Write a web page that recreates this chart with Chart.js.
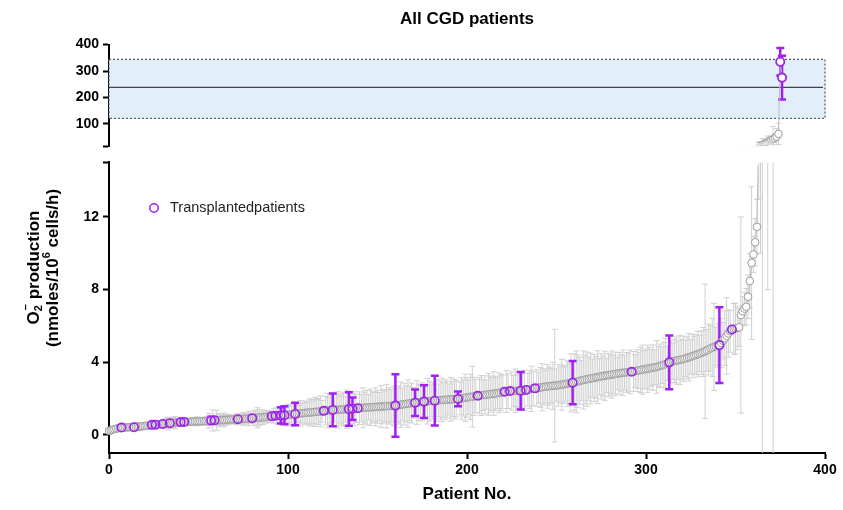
<!DOCTYPE html>
<html>
<head>
<meta charset="utf-8">
<title>All CGD patients</title>
<script src="https://cdn.jsdelivr.net/npm/chart.js@4.4.1/dist/chart.umd.min.js"></script>
<style>
  html, body { margin: 0; padding: 0; background: #fff; }
  #wrap { position: relative; width: 843px; height: 510px; }
  canvas { position: absolute; left: 0; }
  #topChart { top: 0; }
  #bottomChart { top: 150px; }
</style>
</head>
<body>
<div id="wrap">
  <canvas id="topChart" width="843" height="162"></canvas>
  <canvas id="bottomChart" width="843" height="360"></canvas>
</div>
<script>
// O2- production (nmoles/10^6 cells/h), one value per patient, sorted as in the figure
const superoxide = [
  0.22,0.25,0.28,0.31,0.34,0.36,0.38,0.40,0.40,0.41,
  0.41,0.41,0.42,0.42,0.42,0.44,0.45,0.46,0.47,0.48,
  0.49,0.50,0.51,0.53,0.55,0.55,0.56,0.57,0.58,0.59,
  0.60,0.61,0.62,0.62,0.64,0.65,0.66,0.67,0.68,0.69,
  0.70,0.70,0.71,0.71,0.72,0.72,0.73,0.73,0.74,0.74,
  0.74,0.75,0.75,0.76,0.76,0.77,0.78,0.79,0.79,0.80,
  0.80,0.81,0.81,0.82,0.82,0.83,0.83,0.84,0.84,0.85,
  0.85,0.86,0.86,0.87,0.87,0.88,0.89,0.89,0.90,0.91,
  0.92,0.93,0.94,0.94,0.95,0.96,0.97,0.98,0.99,1.00,
  1.01,1.03,1.04,1.05,1.05,1.06,1.07,1.08,1.08,1.09,
  1.10,1.11,1.12,1.14,1.15,1.16,1.17,1.18,1.19,1.20,
  1.21,1.22,1.23,1.24,1.25,1.26,1.27,1.28,1.29,1.30,
  1.32,1.33,1.34,1.35,1.36,1.37,1.37,1.38,1.38,1.39,
  1.39,1.40,1.40,1.41,1.42,1.43,1.44,1.45,1.46,1.47,
  1.47,1.48,1.49,1.50,1.50,1.51,1.52,1.52,1.53,1.54,
  1.54,1.55,1.56,1.56,1.57,1.58,1.58,1.59,1.60,1.60,
  1.61,1.63,1.64,1.66,1.67,1.69,1.70,1.72,1.73,1.75,
  1.76,1.77,1.78,1.79,1.81,1.82,1.83,1.84,1.85,1.86,
  1.87,1.87,1.88,1.89,1.90,1.91,1.92,1.92,1.93,1.94,
  1.95,1.95,1.96,1.97,1.98,1.98,2.00,2.01,2.03,2.04,
  2.06,2.07,2.09,2.10,2.12,2.14,2.15,2.16,2.17,2.19,
  2.20,2.21,2.23,2.24,2.25,2.27,2.28,2.30,2.31,2.33,
  2.35,2.37,2.38,2.40,2.41,2.41,2.42,2.42,2.42,2.43,
  2.43,2.44,2.45,2.47,2.49,2.51,2.53,2.55,2.56,2.58,
  2.59,2.61,2.62,2.64,2.65,2.67,2.68,2.69,2.70,2.71,
  2.72,2.73,2.75,2.76,2.78,2.80,2.82,2.84,2.86,2.87,
  2.90,2.92,2.95,2.97,3.00,3.02,3.04,3.06,3.08,3.10,
  3.12,3.14,3.16,3.18,3.20,3.22,3.24,3.25,3.27,3.29,
  3.30,3.32,3.34,3.35,3.37,3.39,3.40,3.42,3.43,3.44,
  3.45,3.46,3.47,3.49,3.51,3.53,3.55,3.57,3.59,3.60,
  3.62,3.64,3.66,3.68,3.70,3.72,3.74,3.77,3.80,3.83,
  3.86,3.90,3.94,3.99,4.02,4.05,4.07,4.09,4.11,4.13,
  4.15,4.18,4.21,4.24,4.27,4.30,4.34,4.37,4.41,4.44,
  4.48,4.52,4.56,4.60,4.65,4.70,4.76,4.80,4.84,4.88,
  4.92,4.94,5.05,5.18,5.32,5.45,5.58,5.70,5.80,5.83,
  5.86,5.88,5.92,6.60,6.80,6.95,7.05,7.60,8.47,9.46,
  9.93,10.60,11.45,17,18,20,23,27,31,35,
  39,42,47,52,62,335,275
];

// standard deviations, same order
const superoxideSd = [
  0.03,0.04,0.05,0.05,0.06,0.05,0.06,0.05,0.06,0.07,
  0.08,0.10,0.06,0.12,0.05,0.15,0.22,0.18,0.20,0.12,
  0.10,0.14,0.08,0.12,0.05,0.16,0.05,0.10,0.12,0.08,
  0.05,0.22,0.28,0.35,0.05,0.30,0.25,0.34,0.18,0.15,
  0.05,0.12,0.05,0.15,0.10,0.18,0.12,0.20,0.22,0.25,
  0.15,0.18,0.22,0.12,0.20,0.25,0.40,0.20,0.58,0.15,
  0.55,0.35,0.30,0.25,0.38,0.32,0.22,0.28,0.20,0.25,
  0.18,0.30,0.05,0.22,0.28,0.35,0.30,0.25,0.40,0.30,
  0.05,0.42,0.35,0.55,0.45,0.30,0.40,0.28,0.35,0.30,
  0.32,0.05,0.40,0.05,0.45,0.38,0.45,0.50,0.50,0.42,
  0.60,0.55,0.48,0.65,0.62,0.50,0.45,0.70,0.55,0.60,
  0.65,0.58,0.75,0.70,0.62,0.80,0.68,0.72,0.85,0.60,
  0.05,0.78,0.95,0.70,0.82,0.90,0.65,0.88,1.00,0.75,
  0.85,0.92,0.70,1.05,0.92,0.80,0.62,0.95,0.78,0.05,
  0.90,0.75,1.10,0.85,0.95,0.70,1.00,0.88,0.80,1.05,
  0.90,0.78,1.15,0.95,0.85,1.20,0.92,1.00,0.88,1.10,
  1.72,0.95,1.05,1.25,0.90,1.15,1.00,1.30,0.95,1.10,
  0.85,0.73,1.20,1.00,0.90,1.05,0.90,0.95,1.25,1.10,
  0.88,1.00,1.37,1.15,0.90,1.05,1.20,0.95,1.10,1.00,
  0.85,1.20,0.95,1.10,1.00,0.40,0.90,1.15,1.00,1.30,
  1.10,0.95,1.25,1.67,1.05,0.90,0.05,1.00,1.10,0.85,
  1.05,0.80,1.15,1.00,0.90,1.20,0.95,0.85,1.10,1.00,
  0.90,0.05,1.15,0.95,0.05,1.05,0.85,1.20,0.90,1.00,
  1.03,0.95,1.10,0.05,0.90,1.05,1.25,0.95,0.05,1.00,
  0.85,1.10,1.30,1.00,0.90,1.20,1.05,0.95,1.30,3.10,
  0.90,1.15,1.00,1.40,1.05,0.95,1.25,1.10,1.60,1.19,
  1.55,1.70,1.45,1.30,1.10,1.60,1.35,1.50,1.20,1.40,
  1.05,1.30,1.15,1.45,1.00,1.25,1.10,1.35,0.95,1.20,
  1.10,1.30,1.05,1.20,0.90,1.15,1.00,1.25,0.95,1.10,
  1.05,1.20,0.05,1.10,0.90,1.15,1.00,1.25,1.35,1.05,
  1.10,1.30,1.15,1.00,1.25,0.95,1.45,1.10,1.20,1.00,
  1.25,1.40,0.95,1.48,1.15,1.00,1.20,1.30,1.05,1.35,
  1.10,1.25,1.00,1.15,1.30,0.95,1.20,1.05,1.10,1.25,
  1.00,1.20,1.35,3.70,1.15,1.40,1.25,1.60,2.40,1.05,
  1.20,2.08,1.35,1.00,1.50,2.10,1.30,1.15,0.05,1.40,
  1.40,1.20,1.05,5.40,0.80,0.90,1.00,1.20,1.50,4.20,
  1.00,1.30,1.50,4.00,8.00,24.00,6.00,10.00,23.00,12.00,
  15.00,48.00,10.00,30.00,40.00,52.00,83.00
];

// patient numbers of the transplanted patients
const transplanted = [7,14,24,26,30,34,40,42,57,59,72,80,91,93,96,98,104,120,125,134,136,139,
  160,171,176,182,195,206,221,224,230,233,238,259,292,313,341,348,375,376];

const xTicks = [0, 100, 200, 300, 400];
const lowerTicks = [0, 4, 8, 12];
const upperTicks = [100, 200, 300, 400];
const lowerRange = [-1, 15];
const upperRange = [15, 400];
const normalRange = [121, 344];
const normalMean = 238;

const PURPLE = '#a020f0';
const plotLeft = 109;
const tickFont = { family: '"Liberation Sans", Arial, sans-serif', size: 14, weight: 'bold' };

Chart.defaults.font.family = '"Liberation Sans", Arial, sans-serif';
Chart.defaults.color = '#000';

const greyPoints = superoxide.map((v, i) => ({ x: i, y: v, sd: transplanted.includes(i) ? 0 : superoxideSd[i] }));
const purplePoints = transplanted.map(p => ({ x: p, y: superoxide[p], sd: superoxideSd[p] }));

// pixel box of a panel, taken from its own y scale range
function panelBox(chart, pad, inset) {
  const { chartArea: a, scales: { y } } = chart;
  const top = y.getPixelForValue(y.max) + inset;
  const bottom = y.getPixelForValue(y.min) - inset;
  return [a.left - pad, top, a.right - a.left + 2 * pad, bottom - top];
}

// error bars under the points
const errorBars = {
  id: 'errorBars',
  beforeDatasetsDraw(chart) {
    const { ctx, scales: { x, y } } = chart;
    ctx.save();
    ctx.beginPath();
    ctx.rect(...panelBox(chart, 10, 0));
    ctx.clip();
    const sets = chart.data.datasets.slice().sort((p, q) => q.order - p.order);
    sets.forEach(ds => {
      const st = ds.errStyle;
      ctx.strokeStyle = st.color;
      ctx.lineWidth = st.width;
      ds.data.forEach(d => {
        if (!d.sd) return;
        const px = x.getPixelForValue(d.x);
        const y1 = y.getPixelForValue(d.y + d.sd);
        const y2 = y.getPixelForValue(d.y - d.sd);
        ctx.beginPath();
        ctx.moveTo(px, y1); ctx.lineTo(px, y2);
        ctx.moveTo(px - st.cap, y1); ctx.lineTo(px + st.cap, y1);
        ctx.moveTo(px - st.cap, y2); ctx.lineTo(px + st.cap, y2);
        ctx.stroke();
      });
    });
    ctx.restore();
  }
};

// keep each panel's marks inside its own plot area
const panelClip = {
  id: 'panelClip',
  beforeDatasetsDraw(chart) {
    const { ctx } = chart;
    ctx.save();
    ctx.beginPath();
    ctx.rect(...panelBox(chart, 6, 3.5));
    ctx.clip();
  },
  afterDatasetsDraw(chart) {
    chart.ctx.restore();
  }
};

// shaded normal range in the upper panel
const normalBand = {
  id: 'normalBand',
  beforeDatasetsDraw(chart) {
    const { ctx, chartArea: a, scales: { y } } = chart;
    const top = y.getPixelForValue(normalRange[1]);
    const bot = y.getPixelForValue(normalRange[0]);
    const mid = y.getPixelForValue(normalMean);
    ctx.save();
    ctx.fillStyle = '#e2eefa';
    ctx.fillRect(a.left, top, a.right - a.left, bot - top);
    ctx.strokeStyle = '#555';
    ctx.lineWidth = 1.2;
    ctx.setLineDash([2, 2]);
    ctx.strokeRect(a.left, top, a.right - a.left, bot - top);
    ctx.setLineDash([]);
    ctx.strokeStyle = '#444';
    ctx.beginPath();
    ctx.moveTo(a.left, mid); ctx.lineTo(a.right - 2, mid);
    ctx.stroke();
    ctx.restore();
  }
};

function drawParts(ctx, parts, cx, cy) {
  const big = 'bold 17px "Liberation Sans", Arial, sans-serif';
  const small = 'bold 11px "Liberation Sans", Arial, sans-serif';
  let total = 0, prev = 0;
  parts.forEach(p => {
    ctx.font = p.small ? small : big;
    const w = ctx.measureText(p.t).width;
    if (p.back) total = Math.max(total, prev + w);
    else { prev = total; total += w; }
  });
  let x = cx - total / 2;
  prev = x;
  parts.forEach(p => {
    ctx.font = p.small ? small : big;
    const w = ctx.measureText(p.t).width;
    if (p.back) {
      ctx.fillText(p.t, prev + 1, cy + (p.dy || 0));
      x = Math.max(x, prev + 1 + w);
    } else {
      ctx.fillText(p.t, x, cy + (p.dy || 0));
      prev = x;
      x += w;
    }
  });
}

// y axis title and the legend in the lower panel
const annotations = {
  id: 'annotations',
  afterDraw(chart) {
    const { ctx } = chart;
    ctx.save();
    ctx.fillStyle = '#000';
    ctx.textAlign = 'left';
    ctx.textBaseline = 'middle';
    const cy = 268 - 150;
    [[34, [{ t: 'O' }, { t: '2', small: true, dy: 5 }, { t: '–', small: true, dy: -8, back: true }, { t: ' production' }]],
     [53, [{ t: '(nmoles/10' }, { t: '6', small: true, dy: -6 }, { t: ' cells/h)' }]]
    ].forEach(([cx, parts]) => {
      ctx.save();
      ctx.translate(cx, cy);
      ctx.rotate(-Math.PI / 2);
      drawParts(ctx, parts, 0, 0);
      ctx.restore();
    });

    ctx.strokeStyle = PURPLE;
    ctx.lineWidth = 1.5;
    ctx.beginPath();
    ctx.arc(154, 58, 4.2, 0, Math.PI * 2);
    ctx.stroke();
    ctx.font = '14.5px "Liberation Sans", Arial, sans-serif';
    ctx.fillStyle = '#222';
    ctx.fillText('Transplantedpatients', 170, 58);
    ctx.restore();
  }
};

function datasets() {
  return [
    {
      data: purplePoints,
      order: 0,
      showLine: false,
      pointRadius: 4.2,
      pointBorderWidth: 1.6,
      pointBorderColor: PURPLE,
      pointBackgroundColor: 'rgba(0,0,0,0)',
      clip: false,
      errStyle: { color: PURPLE, width: 2.5, cap: 4 }
    },
    {
      data: greyPoints,
      order: 1,
      showLine: true,
      borderColor: '#bdbdbd',
      borderWidth: 1,
      pointRadius: 3.8,
      pointBorderWidth: 1,
      pointBorderColor: '#9c9c9c',
      pointBackgroundColor: '#ffffff',
      clip: false,
      errStyle: { color: '#d0d0d0', width: 1, cap: 3 }
    }
  ];
}

function yAxis(range, ticks, hideTickAt) {
  const values = [...new Set([range[0], ...ticks, range[1]])];
  return {
    type: 'linear',
    min: range[0],
    max: range[1],
    afterBuildTicks: s => { s.ticks = values.map(v => ({ value: v })); },
    ticks: { font: tickFont, color: '#000', padding: 4, autoSkip: false, callback: v => ticks.includes(v) ? v : '' },
    grid: {
      drawOnChartArea: false, tickLength: 6, tickWidth: 2,
      tickColor: c => (c.tick && c.tick.value === hideTickAt) ? 'rgba(0,0,0,0)' : '#000'
    },
    border: { color: '#000', width: 2 },
    afterFit: s => { s.width = plotLeft; }
  };
}

new Chart(document.getElementById('topChart'), {
  type: 'scatter',
  data: { datasets: datasets() },
  options: {
    responsive: false,
    animation: false,
    events: [],
    devicePixelRatio: 1,
    layout: { padding: { left: 0, right: 18, top: 0, bottom: 15.7 } },
    plugins: {
      legend: { display: false },
      tooltip: { enabled: false },
      title: {
        display: true,
        text: 'All CGD patients',
        fullSize: false,
        color: '#000',
        font: { size: 17, weight: 'bold' },
        padding: { top: 9, bottom: 15.2 }
      }
    },
    scales: {
      x: { type: 'linear', min: 0, max: 400, display: false },
      y: yAxis(upperRange, upperTicks, null)
    }
  },
  plugins: [normalBand, errorBars, panelClip]
});

new Chart(document.getElementById('bottomChart'), {
  type: 'scatter',
  data: { datasets: datasets() },
  options: {
    responsive: false,
    animation: false,
    events: [],
    devicePixelRatio: 1,
    layout: { padding: { left: 0, right: 18, top: 12, bottom: 0 } },
    plugins: {
      legend: { display: false },
      tooltip: { enabled: false }
    },
    scales: {
      x: {
        type: 'linear',
        min: 0,
        max: 400,
        afterBuildTicks: s => { s.ticks = xTicks.map(v => ({ value: v })); },
        ticks: { font: tickFont, color: '#000', maxRotation: 0, padding: 3, autoSkip: false },
        grid: { drawOnChartArea: false, tickLength: 6, tickWidth: 2, tickColor: '#000' },
        border: { color: '#000', width: 2 },
        title: {
          display: true,
          text: 'Patient No.',
          color: '#000',
          font: { size: 17, weight: 'bold' },
          padding: { top: 0, bottom: 5 }
        },
        afterFit: s => { s.height = 57; }
      },
      y: yAxis(lowerRange, lowerTicks, lowerRange[0])
    }
  },
  plugins: [errorBars, panelClip, annotations]
});
</script>
</body>
</html>
